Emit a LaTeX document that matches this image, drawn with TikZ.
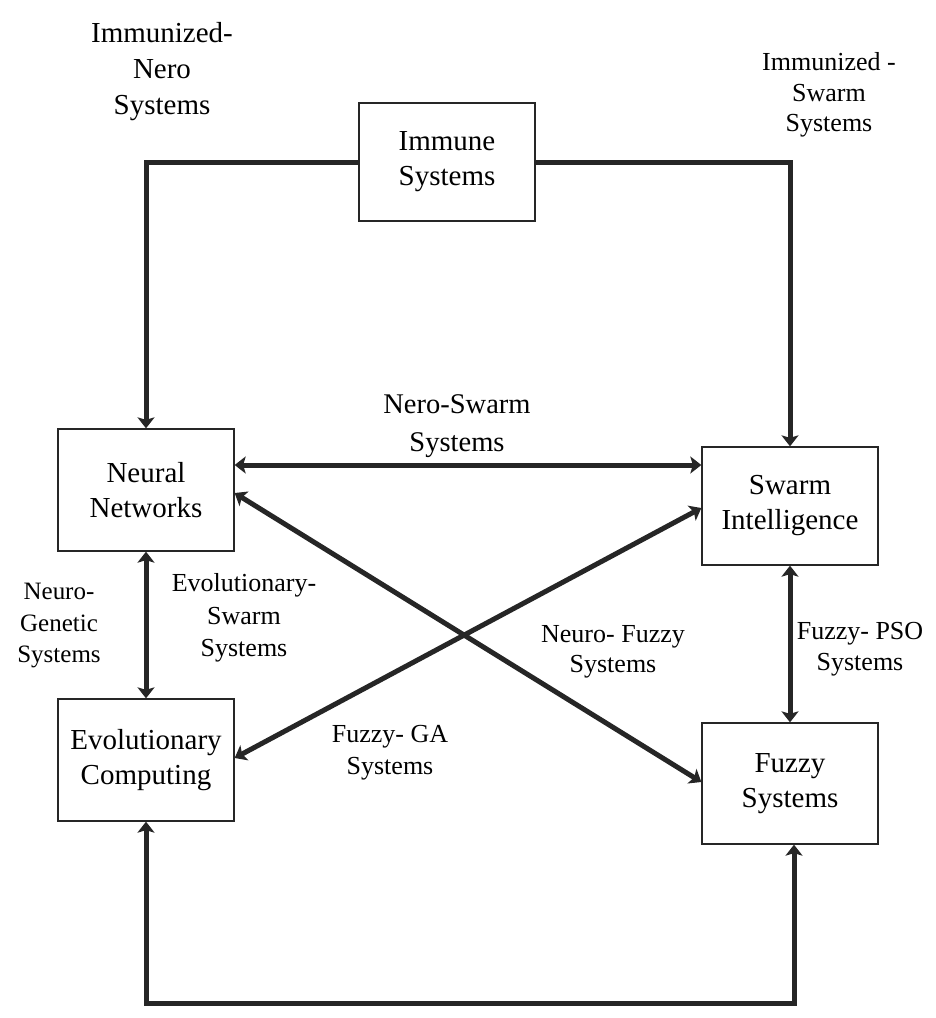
\documentclass[tikz,border=0pt]{standalone}
\usepackage{fontspec}
\setmainfont{Liberation Serif}
\usetikzlibrary{arrows.meta,calc}
\begin{document}
\begin{tikzpicture}[x=1pt,y=-1pt,
  box/.style={draw=black!85,line width=1.3pt,minimum width=176pt,inner sep=0pt,align=center,font=\fontsize{29}{35}\selectfont},
  lbl/.style={align=center,inner sep=0pt,font=\fontsize{26}{32}\selectfont},
  tip/.style={Stealth[length=11pt,width=17pt,inset=2.5pt]},
  conn/.style={draw=black!85,line width=5pt,-{Stealth[length=11pt,width=17pt,inset=2.5pt]}},
  biconn/.style={draw=black!85,line width=5pt,{Stealth[length=11pt,width=17pt,inset=2.5pt]}-{Stealth[length=11pt,width=17pt,inset=2.5pt]}}]
\useasboundingbox (0,0) rectangle (935,1018);
% boxes
\node[box,minimum height=118pt] (imm) at (447,162) {Immune\\Systems};
\node[box,minimum height=122pt] (nn) at (146,490) {Neural\\Networks};
\node[box,minimum height=118pt] (si) at (790,506) {Swarm\\Intelligence};
\node[box,minimum height=122pt] (ec) at (146,760) {Evolutionary\\Computing};
\node[box,minimum height=121pt] (fs) at (790,783.5) {Fuzzy\\Systems};
% labels
\node[lbl,font=\fontsize{29}{36}\selectfont] (l1) at (162,72) {Immunized-\\Nero\\Systems};
\node[lbl,font=\fontsize{26}{30.5}\selectfont] (l2) at (829,95) {Immunized -\\Swarm\\Systems};
\node[lbl,font=\fontsize{28.5}{38}\selectfont] (l3) at (457,426) {Nero-Swarm\\Systems};
\node[lbl,font=\fontsize{25}{31.5}\selectfont] (l4) at (59,626) {Neuro-\\Genetic\\Systems};
\node[lbl,font=\fontsize{26}{32.5}\selectfont] (l5) at (244,618) {Evolutionary-\\Swarm\\Systems};
\node[lbl,font=\fontsize{26}{30}\selectfont] (l6) at (613,652) {Neuro- Fuzzy\\Systems};
\node[lbl,font=\fontsize{26}{32}\selectfont] (l7) at (390,753) {Fuzzy- GA\\Systems};
\node[lbl,font=\fontsize{26}{31}\selectfont] (l8) at (860,649) {Fuzzy- PSO\\Systems};
% connectors
\coordinate (bot) at (470,1003);
\draw[conn] (imm.west) -| (nn.north);
\draw[conn] (imm.east) -| (si.north);
\draw[biconn] (nn.east |- 0,465) -- (si.west |- 0,465);
\draw[biconn] (nn.east |- 0,493) -- (fs.west |- 0,782);
\draw[biconn] (ec.east |- 0,758) -- (si.west |- 0,508);
\draw[biconn] (nn.south) -- (ec.north);
\draw[biconn] (si.south) -- (fs.north);
\draw[biconn] (ec.south) |- (bot) -| ([xshift=4pt]fs.south);
\end{tikzpicture}
\end{document}
